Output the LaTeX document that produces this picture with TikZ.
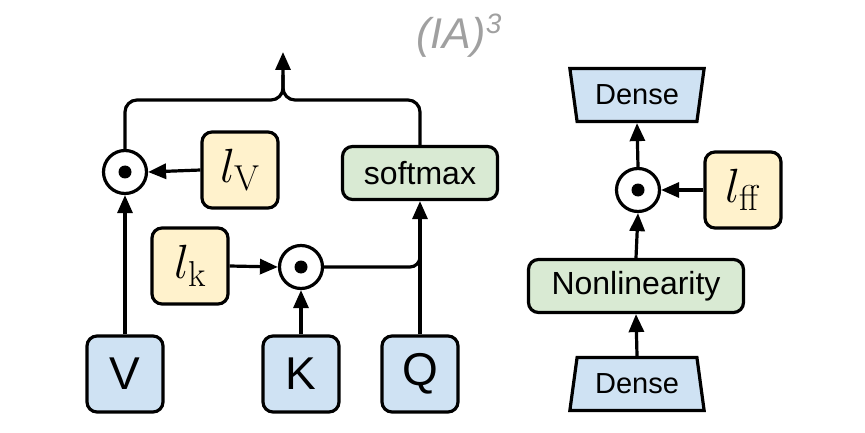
\RequirePackage{fix-cm}
\documentclass[tikz,border=0pt]{standalone}
\usepackage[no-math]{fontspec}
\setmainfont{Liberation Sans}
\usetikzlibrary{arrows.meta,shapes.geometric}
\DeclareMathSizes{48}{48}{36}{26}
\definecolor{boxblue}{HTML}{CFE2F3}
\definecolor{boxyellow}{HTML}{FFF2CC}
\definecolor{boxgreen}{HTML}{D9EAD3}
\definecolor{titlegray}{HTML}{A0A0A0}
\tikzset{
  base/.style={draw=black, line width=3.2pt, rounded corners=10pt, inner sep=0pt, align=center},
  inbox/.style={base, fill=boxblue, minimum width=76pt, minimum height=76pt, font=\fontsize{46}{50}\selectfont},
  scalebox/.style={base, fill=boxyellow, minimum width=76pt, minimum height=76pt, font=\fontsize{48}{52}\selectfont},
  opbox/.style={base, fill=boxgreen, minimum height=53pt, font=\fontsize{32}{36}\selectfont},
  dense/.style={draw=black, line width=3.2pt, fill=boxblue, trapezium, trapezium stretches=true,
     trapezium left angle=76, trapezium right angle=76, minimum width=135pt, minimum height=53pt,
     inner sep=0pt, font=\fontsize{29}{32}\selectfont},
  prod/.style={circle, draw=black, line width=3.2pt, fill=white, minimum size=43pt, inner sep=0pt,
     path picture={\fill[black] (path picture bounding box.center) circle (6.5pt);}},
  conn/.style={line width=3.2pt, draw=black},
  arr/.style={conn, -{Triangle[length=18pt,width=15pt]}},
}
\begin{document}
\begin{tikzpicture}[x=1pt,y=-1pt]
\useasboundingbox (0,0) rectangle (865,433);
% title
\node[text=titlegray, font=\itshape\fontsize{43}{46}\selectfont] (title) at (459,36) {(IA)\raisebox{15pt}{\fontsize{28}{30}\selectfont 3}};
% attention part
\node[inbox] (V) at (125,374) {V};
\node[inbox] (K) at (301,374) {K};
\node[inbox] (Q) at (420,374) {Q};
\node[prod] (c1) at (125,172) {};
\node[scalebox] (lv) at (240,170) {$l_{\mathrm{V}}$};
\node[opbox, minimum width=155pt] (sm) at (420,173) {softmax};
\node[scalebox] (lk) at (190,266) {$l_{\mathrm{k}}$};
\node[prod] (c2) at (301,267) {};
\coordinate (mid) at (283,100);
\coordinate (out) at (283,52);
\draw[arr] (V.north) -- (c1.south);
\draw[arr] (lv.west) -- (c1.east);
\draw[arr] (K.north) -- (c2.south);
\draw[arr] (lk.east) -- (c2.west);
\draw[arr] (Q.north) -- (sm.south);
\draw[conn, rounded corners=10pt] (c2.east) -- (Q.north |- c2.east) -- ([yshift=20pt]Q.north |- c2.east);
\draw[conn, rounded corners=12pt] (sm.north) -- (sm.north |- mid) -- (mid) -- ([yshift=25pt]mid);
\draw[arr, rounded corners=12pt] (c1.north) -- (c1.north |- mid) -- (mid) -- (out);
% feed-forward part
\node[dense, shape border rotate=180] (d2) at (637,95) {Dense};
\node[prod] (c3) at (638,190) {};
\node[scalebox] (lff) at (743,190) {$l_{\mathrm{ff}}$};
\node[opbox, minimum width=215pt] (nl) at (636,286) {Nonlinearity};
\node[dense] (d1) at (637,384) {Dense};
\draw[arr] (d1.north) -- (nl.south);
\draw[arr] (nl.north) -- (c3.south);
\draw[arr] (lff.west) -- (c3.east);
\draw[arr] (c3.north) -- (d2.south);
\end{tikzpicture}
\end{document}
